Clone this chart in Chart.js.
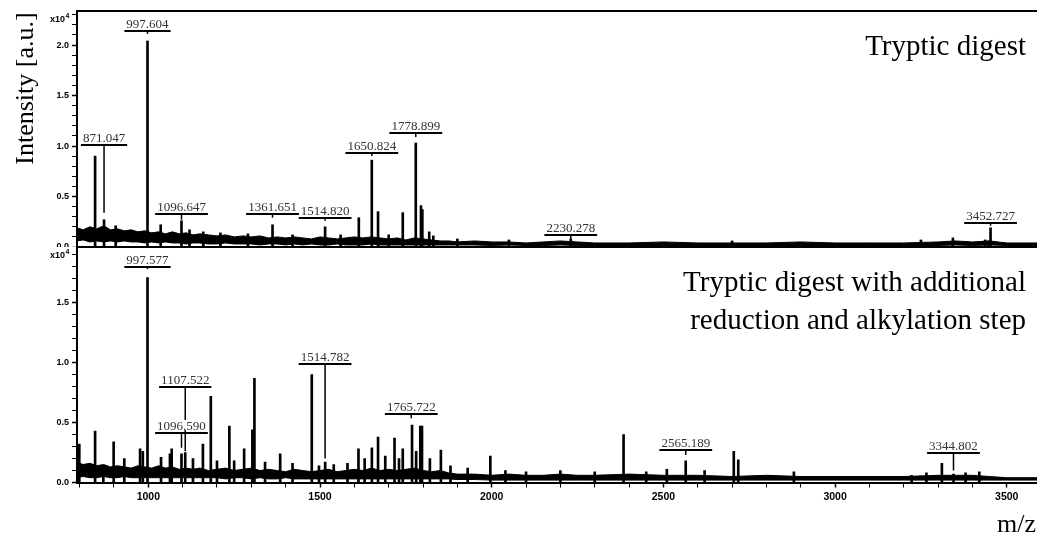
<!DOCTYPE html>
<html>
<head>
<meta charset="utf-8">
<title>Tryptic digest spectra</title>
<script src="https://cdn.jsdelivr.net/npm/chart.js@4.4.1/dist/chart.umd.min.js"></script>
<style>
  html, body { margin: 0; padding: 0; background: #fff; }
  #wrap { position: relative; width: 1037px; height: 535px; overflow: hidden; }
  #wrap canvas { position: absolute; left: 0; }
</style>
</head>
<body>
<div id="wrap">
  <canvas id="specTop" width="1037" height="247" style="top:0"></canvas>
  <canvas id="specBottom" width="1037" height="289" style="top:246px"></canvas>
</div>
<script>
// --- Data (intensity in units of 10^4) ---
const MZ_MIN = 792.3;
const MZ_MAX = 3588;
const xTickLabels = [1000, 1500, 2000, 2500, 3000, 3500];

// baseline noise envelope (shared m/z grid)
const noiseMz = [792, 810, 830, 850, 870, 890, 910, 930, 950, 970, 990, 1010, 1030, 1050, 1070, 1090, 1110, 1130, 1150, 1175,
  1200, 1225, 1250, 1275, 1300, 1325, 1350, 1375, 1400, 1425, 1450, 1475, 1500, 1525, 1550, 1575, 1600, 1625, 1650, 1675,
  1700, 1725, 1750, 1775, 1800, 1825, 1850, 1875, 1900, 1950, 2000, 2050, 2100, 2150, 2200, 2250, 2300, 2400, 2500, 2600,
  2700, 2800, 2900, 3000, 3100, 3200, 3300, 3350, 3400, 3450, 3500, 3588];

const topNoiseHi = [0.19, 0.17, 0.20, 0.18, 0.21, 0.17, 0.18, 0.16, 0.17, 0.15, 0.16, 0.14, 0.15, 0.13, 0.15, 0.13, 0.14, 0.12, 0.13, 0.12,
  0.11, 0.12, 0.10, 0.11, 0.10, 0.11, 0.09, 0.10, 0.09, 0.10, 0.09, 0.08, 0.10, 0.09, 0.08, 0.09, 0.10, 0.09, 0.10, 0.09,
  0.08, 0.09, 0.07, 0.09, 0.08, 0.07, 0.06, 0.06, 0.05, 0.06, 0.05, 0.05, 0.04, 0.05, 0.06, 0.05, 0.04, 0.04, 0.05, 0.04,
  0.04, 0.04, 0.05, 0.04, 0.04, 0.04, 0.05, 0.06, 0.05, 0.06, 0.04, 0.04];
const topNoiseLo = [0.06, 0.07, 0.05, 0.06, 0.05, 0.06, 0.05, 0.06, 0.05, 0.05, 0.04, 0.05, 0.04, 0.05, 0.04, 0.04, 0.03, 0.04, 0.04, 0.03,
  0.03, 0.04, 0.03, 0.03, 0.03, 0.02, 0.03, 0.03, 0.02, 0.03, 0.02, 0.03, 0.02, 0.02, 0.03, 0.02, 0.02, 0.02, 0.03, 0.02,
  0.02, 0.02, 0.02, 0.02, 0.02, 0.02, 0.02, 0.02, 0.02, 0.02, 0.015, 0.02, 0.015, 0.015, 0.02, 0.015, 0.015, 0.015, 0.015, 0.015,
  0.015, 0.015, 0.015, 0.015, 0.015, 0.015, 0.015, 0.02, 0.015, 0.02, 0.015, 0.015];

const bottomNoiseHi = [0.17, 0.15, 0.16, 0.14, 0.15, 0.13, 0.14, 0.13, 0.12, 0.14, 0.13, 0.12, 0.14, 0.12, 0.13, 0.11, 0.12, 0.11, 0.12, 0.10,
  0.11, 0.12, 0.10, 0.11, 0.12, 0.10, 0.11, 0.10, 0.09, 0.11, 0.10, 0.09, 0.10, 0.11, 0.09, 0.10, 0.11, 0.10, 0.12, 0.10,
  0.11, 0.10, 0.11, 0.12, 0.10, 0.09, 0.10, 0.08, 0.07, 0.07, 0.06, 0.07, 0.06, 0.06, 0.07, 0.06, 0.06, 0.07, 0.06, 0.06,
  0.05, 0.06, 0.05, 0.05, 0.05, 0.05, 0.06, 0.06, 0.06, 0.05, 0.04, 0.04];
const bottomNoiseLo = [0.04, 0.05, 0.04, 0.04, 0.05, 0.04, 0.04, 0.05, 0.04, 0.04, 0.04, 0.04, 0.04, 0.04, 0.04, 0.04, 0.04, 0.04, 0.04, 0.04,
  0.04, 0.03, 0.04, 0.04, 0.03, 0.04, 0.03, 0.03, 0.04, 0.03, 0.03, 0.03, 0.03, 0.03, 0.03, 0.03, 0.03, 0.03, 0.03, 0.03,
  0.03, 0.03, 0.03, 0.03, 0.03, 0.03, 0.03, 0.03, 0.025, 0.025, 0.02, 0.02, 0.02, 0.02, 0.02, 0.02, 0.02, 0.02, 0.02, 0.02,
  0.02, 0.02, 0.02, 0.02, 0.02, 0.02, 0.02, 0.02, 0.02, 0.02, 0.02, 0.02];

// peaks
const topPeakMz = [845, 871, 905, 997.6, 1036, 1096.6, 1120, 1160, 1210, 1290, 1361.7, 1420, 1514.8, 1560, 1613, 1650.8, 1669,
  1700, 1741, 1778.9, 1794, 1798, 1818, 1830, 1900, 2050, 2230.3, 2700, 3250, 3343, 3437, 3447, 3452.7];
const topPeakInt = [0.90, 0.27, 0.21, 2.04, 0.22, 0.26, 0.17, 0.15, 0.14, 0.13, 0.22, 0.12, 0.20, 0.12, 0.29, 0.86, 0.35,
  0.12, 0.34, 1.03, 0.41, 0.37, 0.15, 0.11, 0.08, 0.07, 0.08, 0.06, 0.07, 0.09, 0.07, 0.06, 0.19];

const bottomPeakMz = [799, 845, 869, 899, 930, 976, 984, 997.6, 1037, 1063, 1068, 1096.6, 1107.5, 1130, 1159, 1182, 1200, 1236,
  1250, 1279, 1303, 1309, 1340, 1384, 1420, 1476, 1497, 1515, 1540, 1580, 1612, 1630, 1651, 1669, 1690, 1717, 1730, 1741,
  1768, 1780, 1792, 1797, 1820, 1852, 1880, 1930, 1996, 2040, 2100, 2200, 2300, 2384, 2450, 2510, 2565, 2620, 2705, 2718,
  2880, 3223, 3266, 3311, 3345, 3380, 3420];
const bottomPeakInt = [0.32, 0.43, 0.14, 0.34, 0.20, 0.28, 0.26, 1.71, 0.21, 0.24, 0.28, 0.24, 0.25, 0.20, 0.32, 0.72, 0.18, 0.47,
  0.18, 0.28, 0.44, 0.87, 0.17, 0.24, 0.16, 0.90, 0.14, 0.17, 0.15, 0.16, 0.28, 0.20, 0.29, 0.38, 0.22, 0.37, 0.20, 0.28,
  0.48, 0.26, 0.47, 0.47, 0.20, 0.27, 0.14, 0.12, 0.22, 0.10, 0.09, 0.10, 0.09, 0.40, 0.09, 0.11, 0.18, 0.10, 0.26, 0.19,
  0.09, 0.06, 0.08, 0.16, 0.07, 0.08, 0.09];

// peak annotations: m/z, level of the label bar, end of the leader line
const topLabelMz = [871.047, 997.604, 1096.647, 1361.651, 1514.820, 1650.824, 1778.899, 2230.278, 3452.727];
const topLabelLevel = [1.01, 2.14, 0.33, 0.33, 0.29, 0.93, 1.13, 0.12, 0.24];
const topLabelEnd = [0.34, 2.11, 0.27, 0.29, 0.26, 0.90, 1.09, 0.08, 0.21];

const bottomLabelMz = [997.577, 1107.522, 1096.590, 1514.782, 1765.722, 2565.189, 3344.802];
const bottomLabelLevel = [1.80, 0.80, 0.41, 0.99, 0.57, 0.27, 0.245];
const bottomLabelEnd = [1.78, 0.26, 0.29, 0.20, 0.535, 0.23, 0.10];

const topTitle = ['Tryptic digest'];
const bottomTitle = ['Tryptic digest with additional', 'reduction and alkylation step'];

// --- Helpers ---
const SERIF = '"Liberation Serif", "Times New Roman", serif';
const SANS = '"Liberation Sans", Arial, sans-serif';
const toXY = (xs, ys) => xs.map((x, i) => ({ x: x, y: ys[i] }));

function tickRange(from, to, step) {
    const out = [];
    for (let v = from; v <= to + 1e-9; v += step) out.push({ value: Math.round(v * 1000) / 1000 });
    return out;
}

function decorPlugin(cfg) {
    return {
        id: 'decor',
        afterDraw(chart) {
            const { ctx, chartArea: a, scales: { x, y } } = chart;
            ctx.save();

            // frame line on top of the panel
            ctx.strokeStyle = '#000';
            ctx.lineWidth = 2;
            ctx.beginPath();
            ctx.moveTo(a.left - 1, a.top);
            ctx.lineTo(a.right, a.top);
            ctx.stroke();

            // leaders first, then texts and bars
            ctx.lineWidth = 1.5;
            cfg.labelMz.forEach((mz, i) => {
                const px = x.getPixelForValue(mz);
                ctx.beginPath();
                ctx.moveTo(px, y.getPixelForValue(cfg.labelLevel[i]));
                ctx.lineTo(px, y.getPixelForValue(cfg.labelEnd[i]));
                ctx.stroke();
            });
            ctx.font = '13px ' + SERIF;
            ctx.textAlign = 'center';
            ctx.textBaseline = 'alphabetic';
            cfg.labelMz.forEach((mz, i) => {
                const txt = mz.toFixed(3);
                const w = ctx.measureText(txt).width;
                const px = x.getPixelForValue(mz);
                const py = Math.round(y.getPixelForValue(cfg.labelLevel[i]));
                ctx.fillStyle = '#fff';
                ctx.fillRect(px - w / 2, py - 13, w, 10);
                ctx.fillStyle = '#333';
                ctx.fillText(txt, px, py - 3);
                ctx.fillStyle = '#000';
                ctx.fillRect(px - w / 2 - 2, py - 1, w + 4, 2);
            });

            // x10^4 factor
            ctx.fillStyle = '#000';
            ctx.textAlign = 'left';
            ctx.font = 'bold 9px ' + SANS;
            const fw = ctx.measureText('x10').width;
            ctx.fillText('x10', 65 - fw, a.top + 10.5);
            ctx.font = 'bold 7px ' + SANS;
            ctx.fillText('4', 65.5, a.top + 7);

            // panel title
            ctx.font = '29px ' + SERIF;
            ctx.textAlign = 'right';
            cfg.title.forEach((line, i) => ctx.fillText(line, 1026, a.top + 44 + i * 38));

            if (cfg.yTitle) {
                ctx.save();
                ctx.translate(33, 88.5);
                ctx.rotate(-Math.PI / 2);
                ctx.textAlign = 'center';
                ctx.font = '26px ' + SERIF;
                ctx.fillText(cfg.yTitle, 0, 0);
                ctx.restore();
            }
            if (cfg.xTitle) {
                ctx.font = '26px ' + SERIF;
                ctx.textAlign = 'right';
                ctx.fillText(cfg.xTitle, 1036, chart.height - 3);
            }
            ctx.restore();
        }
    };
}

function makeSpectrum(canvasId, cfg) {
    const yScale = {
        type: 'linear',
        min: 0,
        max: cfg.yMax,
        bounds: 'data',
        afterBuildTicks: s => { s.ticks = tickRange(0, cfg.yMax, 0.1); },
        afterFit: s => { s.width = 77; s.paddingTop = 0; s.paddingBottom = 0; },
        border: { display: true, color: '#000', width: 2 },
        grid: {
            drawOnChartArea: false, drawTicks: true, tickLength: 5, color: '#000',
            tickWidth: c => (c.tick && Math.round(c.tick.value * 10) % 5 === 0 ? 1.5 : 1)
        },
        ticks: {
            autoSkip: false,
            padding: 3,
            color: '#000',
            font: { family: SANS, size: 9, weight: 'bold' },
            callback: v => (Math.round(v * 10) % 5 === 0 ? (Math.round(v * 10) / 10).toFixed(1) : '')
        }
    };
    const xScale = {
        type: 'linear',
        min: MZ_MIN,
        max: MZ_MAX,
        bounds: 'data',
        offset: false,
        display: cfg.showX,
        afterBuildTicks: s => { s.ticks = tickRange(800, 3500, 100); },
        afterFit: s => { s.height = cfg.showX ? 52.5 : 0; s.paddingLeft = 0; s.paddingRight = 0; },
        border: { display: true, color: '#000', width: 2 },
        grid: {
            offset: false, drawOnChartArea: false, drawTicks: true, tickLength: 5, color: '#000',
            tickWidth: c => (c.tick && xTickLabels.includes(c.tick.value) ? 1.5 : 1)
        },
        ticks: {
            autoSkip: false,
            maxRotation: 0,
            padding: 3,
            color: '#000',
            font: { family: SANS, size: 10.5, weight: 'bold' },
            callback: v => (xTickLabels.includes(v) ? String(v) : '')
        }
    };

    return new Chart(document.getElementById(canvasId), {
        type: 'bar',
        data: {
            datasets: [
                {
                    type: 'line', data: toXY(noiseMz, cfg.noiseHi), borderColor: '#000', borderWidth: 1,
                    backgroundColor: '#000', fill: '+1', pointRadius: 0, tension: 0
                },
                {
                    type: 'line', data: toXY(noiseMz, cfg.noiseLo), borderColor: '#000', borderWidth: 1,
                    fill: false, pointRadius: 0, tension: 0
                },
                {
                    type: 'bar', data: toXY(cfg.peakMz, cfg.peakInt), backgroundColor: '#000',
                    borderWidth: 0, barThickness: 2
                }
            ]
        },
        options: {
            responsive: false,
            devicePixelRatio: 1,
            animation: false,
            events: [],
            layout: { padding: { top: cfg.padTop, right: 0, bottom: 0, left: 0 } },
            plugins: { legend: { display: false }, tooltip: { enabled: false } },
            scales: { x: xScale, y: yScale }
        },
        plugins: [decorPlugin(cfg)]
    });
}

makeSpectrum('specTop', {
    yMax: 2.337, padTop: 11, showX: false,
    noiseHi: topNoiseHi, noiseLo: topNoiseLo, peakMz: topPeakMz, peakInt: topPeakInt,
    labelMz: topLabelMz, labelLevel: topLabelLevel, labelEnd: topLabelEnd,
    title: topTitle, yTitle: 'Intensity [a.u.]'
});

makeSpectrum('specBottom', {
    yMax: 1.965, padTop: 1, showX: true,
    noiseHi: bottomNoiseHi, noiseLo: bottomNoiseLo, peakMz: bottomPeakMz, peakInt: bottomPeakInt,
    labelMz: bottomLabelMz, labelLevel: bottomLabelLevel, labelEnd: bottomLabelEnd,
    title: bottomTitle, xTitle: 'm/z'
});
</script>
</body>
</html>
